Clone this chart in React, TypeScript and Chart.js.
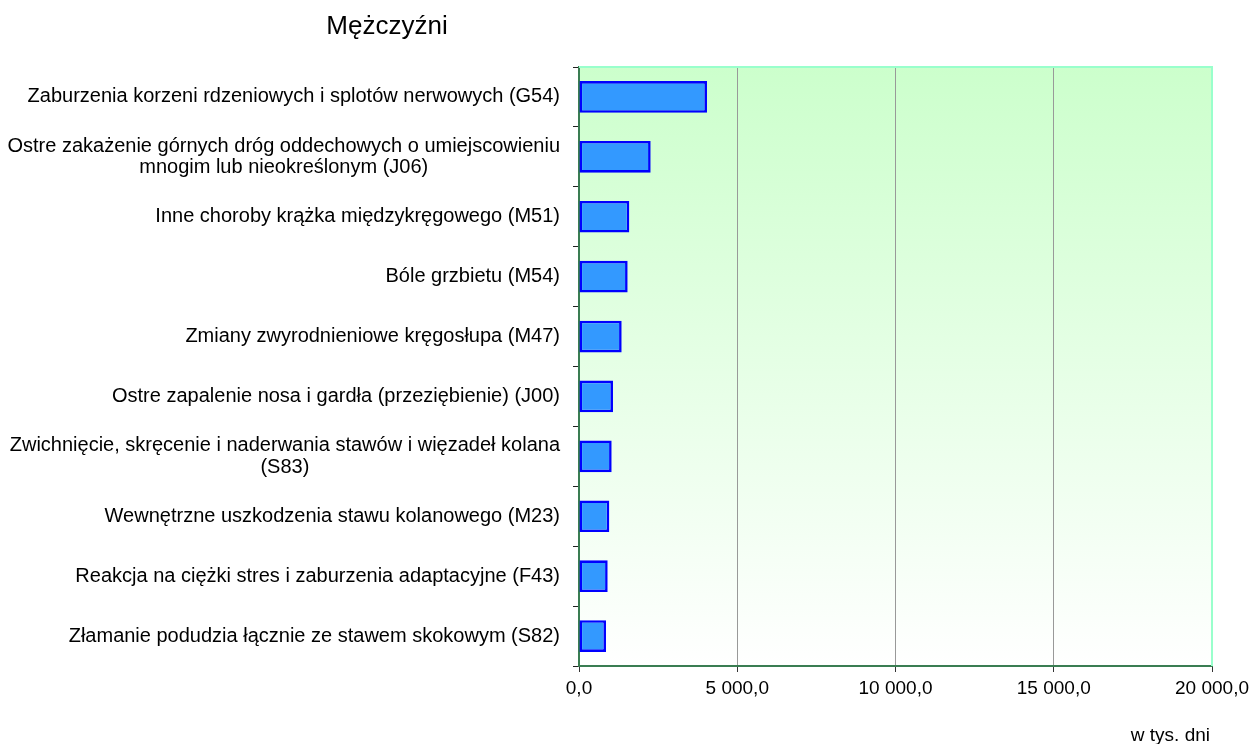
import React, { useEffect, useRef } from "react";
import { Chart, registerables } from "chart.js";

Chart.register(...registerables);

const title = "Mężczyźni";
const unitLabel = "w tys. dni";

const categories: string[][] = [
  ["Zaburzenia korzeni rdzeniowych i splotów nerwowych (G54)"],
  ["Ostre zakażenie górnych dróg oddechowych o umiejscowieniu", "mnogim lub nieokreślonym (J06)"],
  ["Inne choroby krążka międzykręgowego (M51)"],
  ["Bóle grzbietu (M54)"],
  ["Zmiany zwyrodnieniowe kręgosłupa (M47)"],
  ["Ostre zapalenie nosa i gardła (przeziębienie) (J00)"],
  ["Zwichnięcie, skręcenie i naderwania stawów i więzadeł kolana", "(S83)"],
  ["Wewnętrzne uszkodzenia stawu kolanowego (M23)"],
  ["Reakcja na ciężki stres i zaburzenia adaptacyjne (F43)"],
  ["Złamanie podudzia łącznie ze stawem skokowym (S82)"],
];

const values: number[] = [4044, 2265, 1590, 1538, 1349, 1074, 1033, 958, 907, 853];

const xMin = 0;
const xMax = 20000;
const xStep = 5000;

const FONT = '"Liberation Sans", Arial, sans-serif';

function formatPl(v: number): string {
  const fixed = Math.abs(v).toFixed(1);
  const [intPart, dec] = fixed.split(".");
  const grouped = intPart.replace(/\B(?=(\d{3})+(?!\d))/g, " ");
  return (v < 0 ? "-" : "") + grouped + "," + dec;
}

const decorPlugin = {
  id: "decor",
  beforeDraw(chart: any) {
    const { ctx, chartArea } = chart;
    const g = ctx.createLinearGradient(0, chartArea.top, 0, chartArea.bottom);
    g.addColorStop(0, "#ccffcc");
    g.addColorStop(1, "#ffffff");
    ctx.save();
    ctx.fillStyle = g;
    ctx.fillRect(chartArea.left, chartArea.top, chartArea.right - chartArea.left, chartArea.bottom - chartArea.top);
    ctx.restore();
  },
  afterDraw(chart: any) {
    const { ctx, chartArea } = chart;
    const yScale = chart.scales.y;
    ctx.save();
    // top & right plot border
    ctx.strokeStyle = "#99ffcc";
    ctx.lineWidth = 2;
    ctx.beginPath();
    ctx.moveTo(chartArea.left, chartArea.top);
    ctx.lineTo(chartArea.right, chartArea.top);
    ctx.lineTo(chartArea.right, chartArea.bottom);
    ctx.stroke();

    // category labels: block right-aligned, lines centered in block
    ctx.fillStyle = "#000";
    ctx.font = "20px " + FONT;
    ctx.textBaseline = "middle";
    ctx.textAlign = "center";
    const blockRight = chartArea.left - 19;
    const lh = 21.7;
    categories.forEach((lines, i) => {
      const y = yScale.getPixelForTick(i);
      const w = Math.max(...lines.map((l) => ctx.measureText(l).width));
      const cx = blockRight - w / 2;
      lines.forEach((l, j) => {
        ctx.fillText(l, cx, y + (j - (lines.length - 1) / 2) * lh);
      });
    });

    // title
    ctx.font = "26px " + FONT;
    ctx.textAlign = "center";
    ctx.textBaseline = "alphabetic";
    ctx.fillText(title, 387, 34);

    // unit label
    ctx.font = "19px " + FONT;
    ctx.textAlign = "right";
    ctx.fillText(unitLabel, 1210, 741);
    ctx.restore();
  },
};

export default function App() {
  const canvasRef = useRef<HTMLCanvasElement | null>(null);

  useEffect(() => {
    if (!canvasRef.current) return;
    const chart = new Chart(canvasRef.current, {
      type: "bar",
      data: {
        labels: categories,
        datasets: [
          {
            data: values,
            backgroundColor: "#3399ff",
            borderColor: "#0000ff",
            borderWidth: 2.6,
            borderSkipped: false,
            barPercentage: 0.53,
            categoryPercentage: 1,
          },
        ],
      },
      options: {
        indexAxis: "y",
        animation: false,
        responsive: true,
        maintainAspectRatio: false,
        layout: { padding: { top: 67, right: 39, left: 0, bottom: 0 } },
        plugins: {
          legend: { display: false },
          tooltip: { enabled: false },
          title: { display: false },
        },
        scales: {
          x: {
            type: "linear",
            min: xMin,
            max: xMax,
            ticks: {
              stepSize: xStep,
              color: "#000",
              font: { family: FONT, size: 19 },
              padding: 5,
              callback: (v: any) => formatPl(Number(v)),
              maxRotation: 0,
            },
            grid: {
              color: "#999999",
              tickColor: "#333333",
              tickLength: 6,
              lineWidth: 1,
            },
            border: { color: "#3a7d52", width: 2 },
            afterFit: (scale: any) => {
              scale.height = 78;
              scale.paddingLeft = 0;
              scale.paddingRight = 0;
            },
          },
          y: {
            type: "category",
            ticks: {
              color: "rgba(0,0,0,0)",
              font: { family: FONT, size: 19 },
            },
            grid: {
              drawOnChartArea: false,
              offset: true,
              tickColor: "#222222",
              tickLength: 6,
            },
            border: { color: "#3a7d52", width: 2 },
            afterFit: (scale: any) => {
              scale.width = 579;
              scale.paddingTop = 0;
              scale.paddingBottom = 0;
            },
          },
        },
      },
      plugins: [decorPlugin],
    } as any);
    return () => chart.destroy();
  }, []);

  return (
    <div style={{ position: "fixed", left: 0, top: 0, width: 1251, height: 744, background: "#fff" }}>
      <canvas ref={canvasRef} />
    </div>
  );
}
